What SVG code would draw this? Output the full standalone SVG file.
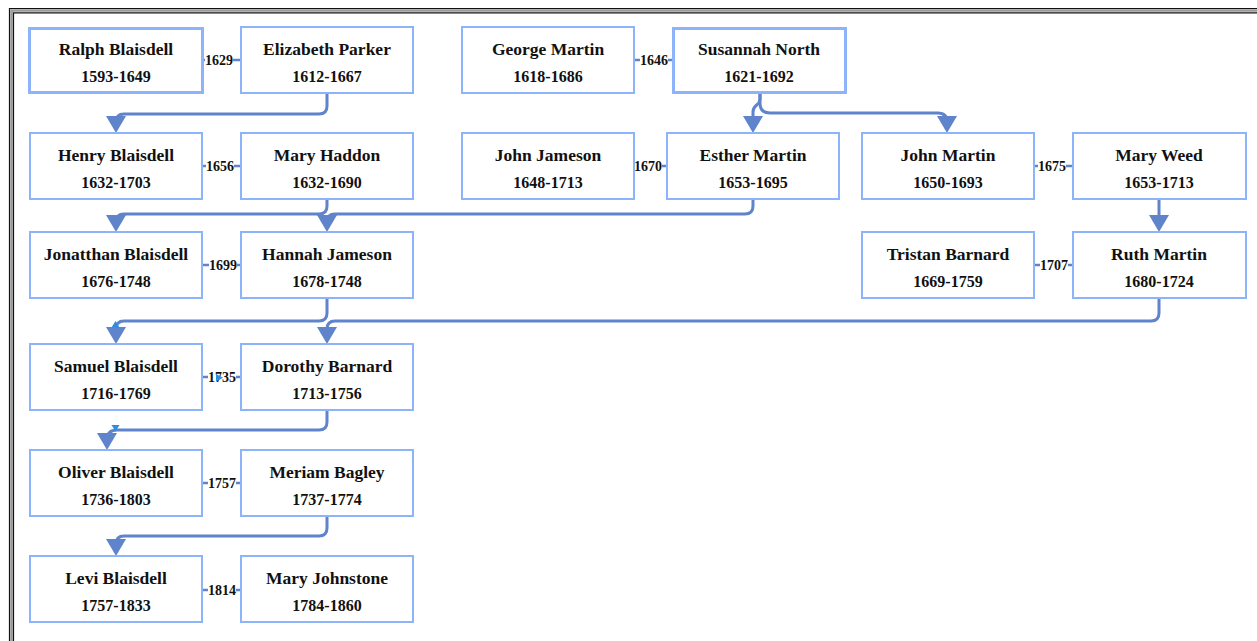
<svg xmlns="http://www.w3.org/2000/svg" width="1257" height="641" viewBox="0 0 1257 641">
<style>
.box{fill:#fff;stroke:#8db4fa;stroke-width:2}
.box.main{stroke-width:3}
.nm{font-family:"Liberation Serif",serif;font-weight:bold;font-size:17.5px;fill:#111;text-anchor:middle}
.yr{font-family:"Liberation Serif",serif;font-weight:bold;font-size:16px;fill:#111;text-anchor:middle}
.desc{fill:none;stroke:#5f84cc;stroke-width:3;marker-end:url(#arr)}
.mar{stroke:#5f84cc;stroke-width:2.5}
.lblbg{fill:#fff}
.lbl{font-family:"Liberation Serif",serif;font-weight:bold;font-size:14px;fill:#111;text-anchor:middle}
.tick{fill:#2a8fe0}
</style>
<defs>
<marker id="arr" viewBox="0 0 17 20" refX="13" refY="10" markerWidth="17" markerHeight="20" markerUnits="userSpaceOnUse" orient="auto">
<path d="M0,0 L17,10 L0,20 z" fill="#5f84cc"/>
</marker>
</defs>
<rect width="1257" height="641" fill="#fff"/>
<g id="frame" fill="none">
<path d="M9.5,641 V8.5 H1257" stroke="#111" stroke-width="1.2"/>
<path d="M11.5,641 V10.5 H1257" stroke="#9a9a9a" stroke-width="2.5"/>
<path d="M13.5,641 V12.8 H1257" stroke="#111" stroke-width="1.2"/>
</g>
<g id="connectors">
<path class="desc" d="M327,93 V106 Q327,114 319,114 H124 Q116,114 116,122 V129"/>
<path class="desc" d="M760,93 V99 C760,106 753,104 753,112 V129"/>
<path class="desc" d="M760,93 V103 Q760,113 770,113 H938 Q947,113 947,122 V129"/>
<path class="desc" d="M327,199 V206 Q327,214 319,214 H124 Q116,214 116,222 V228"/>
<path class="desc" d="M753,199 V206 Q753,214 745,214 H335 Q327,214 327,222 V228"/>
<path class="desc" d="M1159,199 V228"/>
<path class="desc" d="M327,298 V313 Q327,321 319,321 H124 Q116,321 116,329 V340"/>
<path class="desc" d="M1159,298 V313 Q1159,321 1151,321 H335 Q327,321 327,329 V340"/>
<path class="desc" d="M327,410 V422 Q327,430 319,430 H117 Q107,430 107,440 V446"/>
<path class="desc" d="M327,516 V528 Q327,536 319,536 H124 Q116,536 116,544 V552"/>
<g id="m1629"><line class="mar" x1="202" y1="60" x2="241" y2="60"/><rect class="lblbg" x="205" y="52" width="28" height="15"/><text class="lbl" x="219" y="65">1629</text></g>
<g id="m1646"><line class="mar" x1="634" y1="60" x2="673" y2="60"/><rect class="lblbg" x="640" y="52" width="28" height="15"/><text class="lbl" x="654" y="65">1646</text></g>
<g id="m1656"><line class="mar" x1="202" y1="166" x2="241" y2="166"/><rect class="lblbg" x="206" y="158" width="28" height="15"/><text class="lbl" x="220" y="171">1656</text></g>
<g id="m1670"><line class="mar" x1="634" y1="166" x2="667" y2="166"/><rect class="lblbg" x="634" y="158" width="28" height="15"/><text class="lbl" x="648" y="171">1670</text></g>
<g id="m1675"><line class="mar" x1="1034" y1="166" x2="1073" y2="166"/><rect class="lblbg" x="1038" y="158" width="28" height="15"/><text class="lbl" x="1052" y="171">1675</text></g>
<g id="m1699"><line class="mar" x1="202" y1="265" x2="241" y2="265"/><rect class="lblbg" x="209" y="257" width="28" height="15"/><text class="lbl" x="223" y="270">1699</text></g>
<g id="m1707"><line class="mar" x1="1034" y1="265" x2="1073" y2="265"/><rect class="lblbg" x="1040" y="257" width="28" height="15"/><text class="lbl" x="1054" y="270">1707</text></g>
<g id="m1735"><line class="mar" x1="202" y1="377" x2="241" y2="377"/><rect class="lblbg" x="208" y="369" width="28" height="15"/><text class="lbl" x="222" y="382">1735</text></g>
<g id="m1757"><line class="mar" x1="202" y1="483" x2="241" y2="483"/><rect class="lblbg" x="208" y="475" width="28" height="15"/><text class="lbl" x="222" y="488">1757</text></g>
<g id="m1814"><line class="mar" x1="202" y1="590" x2="241" y2="590"/><rect class="lblbg" x="208" y="582" width="28" height="15"/><text class="lbl" x="222" y="595">1814</text></g>
</g>
<g id="ralph"><rect class="box main" x="29.5" y="28.5" width="173" height="64"/><text class="nm" x="116" y="55">Ralph Blaisdell</text><text class="yr" x="116" y="82">1593-1649</text></g>
<g id="elizabeth"><rect class="box" x="241" y="27" width="172" height="66"/><text class="nm" x="327" y="55">Elizabeth Parker</text><text class="yr" x="327" y="82">1612-1667</text></g>
<g id="george"><rect class="box" x="462" y="27" width="172" height="66"/><text class="nm" x="548" y="55">George Martin</text><text class="yr" x="548" y="82">1618-1686</text></g>
<g id="susannah"><rect class="box main" x="673.5" y="28.5" width="172" height="64"/><text class="nm" x="759" y="55">Susannah North</text><text class="yr" x="759" y="82">1621-1692</text></g>
<g id="henry"><rect class="box" x="30" y="133" width="172" height="66"/><text class="nm" x="116" y="161">Henry Blaisdell</text><text class="yr" x="116" y="188">1632-1703</text></g>
<g id="maryhaddon"><rect class="box" x="241" y="133" width="172" height="66"/><text class="nm" x="327" y="161">Mary Haddon</text><text class="yr" x="327" y="188">1632-1690</text></g>
<g id="johnjameson"><rect class="box" x="462" y="133" width="172" height="66"/><text class="nm" x="548" y="161">John Jameson</text><text class="yr" x="548" y="188">1648-1713</text></g>
<g id="esther"><rect class="box" x="667" y="133" width="172" height="66"/><text class="nm" x="753" y="161">Esther Martin</text><text class="yr" x="753" y="188">1653-1695</text></g>
<g id="johnmartin"><rect class="box" x="862" y="133" width="172" height="66"/><text class="nm" x="948" y="161">John Martin</text><text class="yr" x="948" y="188">1650-1693</text></g>
<g id="maryweed"><rect class="box" x="1073" y="133" width="173" height="66"/><text class="nm" x="1159" y="161">Mary Weed</text><text class="yr" x="1159" y="188">1653-1713</text></g>
<g id="jonathan"><rect class="box" x="30" y="232" width="172" height="66"/><text class="nm" x="116" y="260">Jonatthan Blaisdell</text><text class="yr" x="116" y="287">1676-1748</text></g>
<g id="hannah"><rect class="box" x="241" y="232" width="172" height="66"/><text class="nm" x="327" y="260">Hannah Jameson</text><text class="yr" x="327" y="287">1678-1748</text></g>
<g id="tristan"><rect class="box" x="862" y="232" width="172" height="66"/><text class="nm" x="948" y="260">Tristan Barnard</text><text class="yr" x="948" y="287">1669-1759</text></g>
<g id="ruth"><rect class="box" x="1073" y="232" width="173" height="66"/><text class="nm" x="1159" y="260">Ruth Martin</text><text class="yr" x="1159" y="287">1680-1724</text></g>
<g id="samuel"><rect class="box" x="30" y="344" width="172" height="66"/><text class="nm" x="116" y="372">Samuel Blaisdell</text><text class="yr" x="116" y="399">1716-1769</text></g>
<g id="dorothy"><rect class="box" x="241" y="344" width="172" height="66"/><text class="nm" x="327" y="372">Dorothy Barnard</text><text class="yr" x="327" y="399">1713-1756</text></g>
<g id="oliver"><rect class="box" x="30" y="450" width="172" height="66"/><text class="nm" x="116" y="478">Oliver Blaisdell</text><text class="yr" x="116" y="505">1736-1803</text></g>
<g id="meriam"><rect class="box" x="241" y="450" width="172" height="66"/><text class="nm" x="327" y="478">Meriam Bagley</text><text class="yr" x="327" y="505">1737-1774</text></g>
<g id="levi"><rect class="box" x="30" y="556" width="172" height="66"/><text class="nm" x="116" y="584">Levi Blaisdell</text><text class="yr" x="116" y="611">1757-1833</text></g>
<g id="maryjohnstone"><rect class="box" x="241" y="556" width="172" height="66"/><text class="nm" x="327" y="584">Mary Johnstone</text><text class="yr" x="327" y="611">1784-1860</text></g>
<g id="ticks">
<polygon class="tick" points="115.5,321 119.5,327.5 111.5,327.5"/>
<polygon class="tick" points="216,374 223,377.7 216,381.4"/>
<polygon class="tick" points="111.5,425 119.5,425 115.5,431.5"/>
</g>
</svg>
